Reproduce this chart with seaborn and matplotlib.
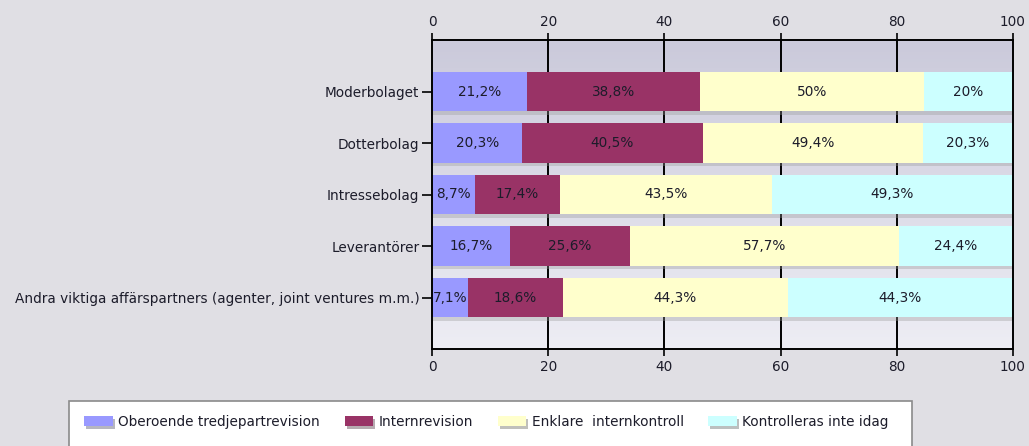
import matplotlib
matplotlib.use("Agg")
import matplotlib.pyplot as plt
import matplotlib.patheffects as pe
from matplotlib.patches import Rectangle
import numpy as np
import pandas as pd
import seaborn as sns

# data
categories = ["Moderbolaget", "Dotterbolag", "Intressebolag", "Leverantörer",
              "Andra viktiga affärspartners (agenter, joint ventures m.m.)"]
series = ["Oberoende tredjepartrevision", "Internrevision",
          "Enklare  internkontroll", "Kontrolleras inte idag"]
oberoende = [21.2, 20.3, 8.7, 16.7, 7.1]
internrevision = [38.8, 40.5, 17.4, 25.6, 18.6]
enklare = [50, 49.4, 43.5, 57.7, 44.3]
kontrolleras_ej = [20, 20.3, 49.3, 24.4, 44.3]
colors = ["#9999ff", "#993366", "#ffffcc", "#ccffff"]

raw = np.array([oberoende, internrevision, enklare, kontrolleras_ej]).T
share = raw / raw.sum(axis=1, keepdims=True) * 100
cum = np.cumsum(share, axis=1)

sns.set_style("white")
plt.rcParams["font.family"] = ["DejaVu Sans"]
txt = "#1c1c2a"
fs = 9.8

fig = plt.figure(figsize=(10.29, 4.46), dpi=100, facecolor="#e0dfe4")
ax = fig.add_axes([432 / 1029, 1 - 349 / 446, 581 / 1029, 309 / 446])
ax.set_facecolor("none")

# gradient background of the plot area
grad = np.linspace(0, 1, 100)[:, None]
cmap = matplotlib.colors.LinearSegmentedColormap.from_list("bg", ["#cbcadb", "#ededf4"])
ax.imshow(grad, cmap=cmap, aspect="auto", extent=(0, 100, 5, -1), zorder=-2)
ax.vlines([20, 40, 60, 80], -1, 5, color="black", lw=1.4, zorder=-1)

# stacked bars: draw cumulative totals from the widest down
for i in range(3, -1, -1):
    df = pd.DataFrame({"kategori": categories, "andel": cum[:, i]})
    n0 = len(ax.patches)
    sns.barplot(data=df, x="andel", y="kategori", order=categories, orient="h",
                color=colors[i], saturation=1, width=0.76, linewidth=0, ax=ax)
    if i == 3:
        for p in ax.patches[n0:]:
            p.set_path_effects([pe.SimplePatchShadow(offset=(1, -2.5), shadow_rgbFace="#999999", alpha=0.35),
                                pe.Normal()])

for r in range(len(categories)):
    for i in range(4):
        left = cum[r, i] - share[r, i]
        lab = f"{raw[r, i]:g}".replace(".", ",") + "%"
        ax.text(left + share[r, i] / 2, r, lab, ha="center", va="center",
                fontsize=fs, color=txt, zorder=5)

ax.set_xlim(0, 100)
ax.set_ylim(5, -1)
ax.set_xlabel("")
ax.set_ylabel("")
ax.set_xticks([0, 20, 40, 60, 80, 100])
ax.tick_params(axis="x", which="both", top=True, bottom=True, labeltop=True,
               direction="out", length=5, width=1.2, color="black",
               labelsize=fs, labelcolor=txt, pad=3)
ax.tick_params(axis="y", left=True, direction="out", length=7, width=1.2,
               color="black", labelsize=fs, labelcolor=txt, pad=2)
for s in ax.spines.values():
    s.set_visible(True)
    s.set_color("black")
    s.set_linewidth(1.4)

# legend box
fig.patches.append(Rectangle((69 / 1029, -0.05), (912 - 69) / 1029, 1 - 401 / 446 + 0.05,
                             transform=fig.transFigure, facecolor="white",
                             edgecolor="#8a8a8a", lw=1.2, zorder=0))
handles = [Rectangle((0, 0), 1, 1, facecolor=c, edgecolor="none",
                     path_effects=[pe.SimplePatchShadow(offset=(1.5, -2), alpha=0.35), pe.Normal()])
           for c in colors]
fig.legend(handles, series, loc="center left", bbox_to_anchor=(72 / 1029, 1 - 422 / 446),
           ncol=4, frameon=False, fontsize=fs, handlelength=2.1, handleheight=0.8,
           handletextpad=0.4, columnspacing=1.8, labelcolor=txt)

fig.savefig("out.png", dpi=100, facecolor=fig.get_facecolor())
